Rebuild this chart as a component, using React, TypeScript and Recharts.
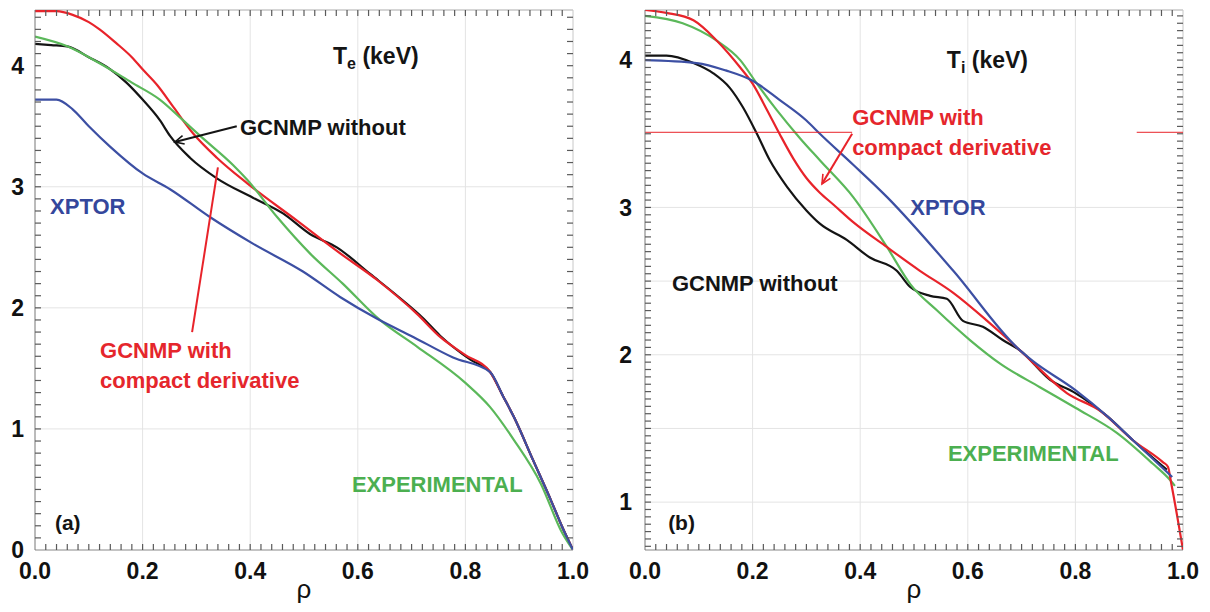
import React from 'react';
import { LineChart, Line, XAxis, YAxis, ReferenceLine, ReferenceDot } from 'recharts';

type Pt = [number, number];

const FONT = '"Liberation Sans", Arial, Helvetica, sans-serif';
const RED = '#e8232a';
const GREEN = '#5bb85a';
const BLUE = '#3c4fa3';
const BLACK = '#141414';

// ---- (a) electron temperature, Te (keV) vs rho
const teWithout: Pt[] = [
    [0, 4.18], [0.03, 4.17], [0.06, 4.16], [0.1, 4.07], [0.14, 3.97], [0.17, 3.86], [0.2, 3.72],
    [0.232, 3.55], [0.251, 3.42], [0.288, 3.24], [0.338, 3.07], [0.405, 2.91], [0.461, 2.78],
    [0.511, 2.61], [0.561, 2.5], [0.623, 2.28], [0.684, 2.06], [0.72, 1.92], [0.753, 1.77],
    [0.81, 1.57], [0.846, 1.47], [0.87, 1.27], [0.89, 1.1], [0.926, 0.74], [0.96, 0.4], [0.98, 0.19], [1, 0],
];
const teCompact: Pt[] = [
    [0, 4.45], [0.04, 4.45], [0.07, 4.42], [0.1, 4.36], [0.12, 4.3], [0.15, 4.19], [0.18, 4.07],
    [0.2, 3.97], [0.227, 3.84], [0.257, 3.66], [0.294, 3.44], [0.338, 3.24], [0.394, 3.03],
    [0.487, 2.72], [0.561, 2.47], [0.636, 2.23], [0.71, 1.95], [0.753, 1.76], [0.8, 1.61],
    [0.846, 1.47], [0.87, 1.27], [0.89, 1.1], [0.926, 0.74], [0.96, 0.4], [0.98, 0.19], [1, 0],
];
const teXptor: Pt[] = [
    [0, 3.72], [0.04, 3.72], [0.07, 3.64], [0.1, 3.5], [0.14, 3.33], [0.2, 3.11], [0.251, 2.98],
    [0.325, 2.75], [0.405, 2.53], [0.498, 2.3], [0.567, 2.09], [0.636, 1.91], [0.703, 1.76],
    [0.777, 1.59], [0.846, 1.47], [0.87, 1.27], [0.89, 1.1], [0.926, 0.74], [0.96, 0.4], [0.98, 0.19], [1, 0],
];
const teExp: Pt[] = [
    [0, 4.24], [0.06, 4.16], [0.12, 4.02], [0.18, 3.86], [0.232, 3.72], [0.275, 3.55], [0.307, 3.42],
    [0.368, 3.18], [0.394, 3.06], [0.45, 2.75], [0.511, 2.45], [0.572, 2.2], [0.641, 1.9],
    [0.71, 1.68], [0.8, 1.38], [0.846, 1.18], [0.89, 0.91], [0.94, 0.55], [0.98, 0.14], [1, 0],
];

// ---- (b) ion temperature, Ti (keV) vs rho
const tiWithout: Pt[] = [
    [0, 4.03], [0.04, 4.03], [0.09, 3.98], [0.127, 3.91], [0.158, 3.81], [0.182, 3.68], [0.208, 3.5],
    [0.232, 3.32], [0.264, 3.14], [0.3, 2.98], [0.325, 2.89], [0.375, 2.78], [0.418, 2.66],
    [0.468, 2.57], [0.493, 2.46], [0.53, 2.4], [0.561, 2.38], [0.591, 2.23], [0.628, 2.19],
    [0.665, 2.1], [0.697, 2.03], [0.753, 1.83], [0.8, 1.74], [0.86, 1.58], [0.907, 1.42], [0.97, 1.22],
];
const tiCompact: Pt[] = [
    [0, 4.34], [0.04, 4.32], [0.09, 4.27], [0.134, 4.13], [0.177, 3.95], [0.2, 3.84], [0.227, 3.66],
    [0.25, 3.5], [0.276, 3.33], [0.3, 3.2], [0.325, 3.1], [0.35, 3.02], [0.387, 2.9], [0.45, 2.73],
    [0.511, 2.57], [0.573, 2.42], [0.636, 2.23], [0.697, 2.03], [0.72, 1.95], [0.784, 1.74],
    [0.846, 1.62], [0.907, 1.42], [0.963, 1.27], [0.972, 1.24], [0.978, 1.13], [1, 0.675],
];
const tiXptor: Pt[] = [
    [0, 4.0], [0.096, 3.98], [0.15, 3.93], [0.2, 3.86], [0.25, 3.73], [0.3, 3.59], [0.325, 3.5],
    [0.387, 3.29], [0.45, 3.07], [0.573, 2.57], [0.697, 2.03], [0.72, 1.96], [0.8, 1.76],
    [0.86, 1.58], [0.907, 1.42], [0.98, 1.17],
];
const tiExp: Pt[] = [
    [0, 4.3], [0.07, 4.25], [0.134, 4.13], [0.177, 4.0], [0.208, 3.84], [0.245, 3.66], [0.288, 3.47],
    [0.325, 3.32], [0.387, 3.07], [0.45, 2.73], [0.493, 2.48], [0.543, 2.3], [0.604, 2.1],
    [0.66, 1.94], [0.734, 1.78], [0.8, 1.64], [0.877, 1.47], [0.944, 1.26], [0.976, 1.15], [0.985, 1.11],
];

// axis labels and grid
const xLabels = [0, 0.2, 0.4, 0.6, 0.8, 1.0];
const teYLabels = [0, 1, 2, 3, 4];
const tiYLabels = [1, 2, 3, 4];
const gridX = [0.2, 0.4, 0.6, 0.8];
const teGridY = [1, 2, 3];
const tiGridY = [1, 1.5, 2, 2.5, 3];

// minor tick mark positions
const range = (start: number, stop: number, step: number) => {
    const out: number[] = [];
    for (let v = start; v <= stop + 1e-9; v += step) out.push(Math.round(v * 1000) / 1000);
    return out;
};
const xMinor = range(0.02, 0.98, 0.02);
const teYMinor = range(0.1, 4.4, 0.1);
const tiYMinor = range(0.7, 4.3, 0.05);

interface Series { color: string; points: Pt[] }
interface Note { x: number; y: number; text: string; color: string; sub?: string; rest?: string; size?: number }
interface Arrow { from: Pt; to: Pt; color: string; head?: boolean; width?: number }

const teNotes: Note[] = [
    { x: 0.554, y: 4.08, text: 'T', sub: 'e', rest: ' (keV)', color: BLACK, size: 23 },
    { x: 0.381, y: 3.49, text: 'GCNMP without', color: BLACK },
    { x: 0.028, y: 2.84, text: 'XPTOR', color: '#34479c' },
    { x: 0.121, y: 1.65, text: 'GCNMP with', color: '#e5262c' },
    { x: 0.121, y: 1.4, text: 'compact derivative', color: '#e5262c' },
    { x: 0.589, y: 0.544, text: 'EXPERIMENTAL', color: '#4caf50' },
    { x: 0.037, y: 0.231, text: '(a)', color: BLACK, size: 21 },
];
const tiNotes: Note[] = [
    { x: 0.561, y: 4.0, text: 'T', sub: 'i', rest: ' (keV)', color: BLACK, size: 23 },
    { x: 0.385, y: 3.61, text: 'GCNMP with', color: '#e5262c' },
    { x: 0.385, y: 3.41, text: 'compact derivative', color: '#e5262c' },
    { x: 0.493, y: 3.0, text: 'XPTOR', color: '#34479c' },
    { x: 0.05, y: 2.485, text: 'GCNMP without', color: BLACK },
    { x: 0.563, y: 1.33, text: 'EXPERIMENTAL', color: '#4caf50' },
    { x: 0.043, y: 0.864, text: '(b)', color: BLACK, size: 21 },
];

const teArrows: Arrow[] = [
    { from: [0.375, 3.5], to: [0.26, 3.37], color: BLACK, head: true, width: 2 },
    { from: [0.34, 3.16], to: [0.292, 1.8], color: RED, width: 2 },
];
const tiArrows: Arrow[] = [
    { from: [0.385, 3.5], to: [0.329, 3.16], color: RED, head: true, width: 2 },
    { from: [0, 3.51], to: [0.385, 3.51], color: RED, width: 1 },
    { from: [0.914, 3.51], to: [1, 3.51], color: RED, width: 1 },
];

const isLabel = (labels: number[]) => (v: number) => labels.some((l) => Math.abs(l - v) < 1e-6);

const tickStyle = { fontSize: 23, fontWeight: 'bold' as const, fill: '#111', fontFamily: FONT };
const TICK = '#5a5a5a';
const TICK_LEN = 6;

// short inward tick drawn at a data point on the frame
const tickMark = (dx: number, dy: number) => (p: any) => (
    <line x1={p.cx} y1={p.cy} x2={p.cx + dx} y2={p.cy + dy} stroke={TICK} strokeWidth={1.2} />
);

interface PanelProps {
    series: Series[];
    yDomain: [number, number];
    yMinor: number[];
    yLabels: number[];
    gridY: number[];
    notes: Note[];
    arrows: Arrow[];
    yAxisWidth: number;
    rightMargin: number;
    yTickMargin: number;
}

const Panel: React.FC<PanelProps> = ({ series, yDomain, yMinor, yLabels, gridY, notes, arrows, yAxisWidth, rightMargin, yTickMargin }) => {
    const xIs = isLabel(xLabels);
    const yIs = isLabel(yLabels);
    const ids = { xAxisId: 'b', yAxisId: 'l' };
    const [y0, y1] = yDomain;
    return (
        <LineChart width={605} height={612} margin={{ top: 10, right: rightMargin, bottom: 0, left: 0 }}>
            <XAxis
                xAxisId="b" dataKey="x" type="number" domain={[0, 1]} allowDataOverflow
                ticks={xLabels} interval={0} tickSize={0} tickMargin={13} height={62}
                tickFormatter={(v: number) => (xIs(v) ? v.toFixed(1) : '')}
                tick={tickStyle} stroke="#888" tickLine={false}
                label={{ value: 'ρ', position: 'insideBottom', offset: 14, style: { fontSize: 26, fill: '#111', fontFamily: FONT } }}
            />
            <YAxis
                yAxisId="l" type="number" domain={yDomain} allowDataOverflow
                ticks={yLabels} interval={0} tickSize={0} tickMargin={yTickMargin} width={yAxisWidth}
                tickFormatter={(v: number) => (yIs(v) ? String(Math.round(v)) : '')}
                tick={tickStyle} stroke="#777" tickLine={false}
            />

            {/* light frame on top and right */}
            <ReferenceLine {...ids} y={y1} stroke="#aaa" strokeWidth={1} ifOverflow="visible" />
            <ReferenceLine {...ids} x={1} stroke="#c8c8c8" strokeWidth={1} ifOverflow="visible" />

            {gridX.map((v) => (
                <ReferenceLine key={'gx' + v} {...ids} x={v} stroke="#e4e4e4" strokeWidth={1} />
            ))}
            {gridY.map((v) => (
                <ReferenceLine key={'gy' + v} {...ids} y={v} stroke="#e4e4e4" strokeWidth={1} />
            ))}

            {/* inward minor ticks on all four sides */}
            {xMinor.map((v) => (
                <ReferenceDot key={'tb' + v} {...ids} x={v} y={y0} r={0} ifOverflow="visible" shape={tickMark(0, -TICK_LEN)} />
            ))}
            {xMinor.map((v) => (
                <ReferenceDot key={'tt' + v} {...ids} x={v} y={y1} r={0} ifOverflow="visible" shape={tickMark(0, TICK_LEN)} />
            ))}
            {yMinor.map((v) => (
                <ReferenceDot key={'tl' + v} {...ids} x={0} y={v} r={0} ifOverflow="visible" shape={tickMark(TICK_LEN, 0)} />
            ))}
            {yMinor.map((v) => (
                <ReferenceDot key={'tr' + v} {...ids} x={1} y={v} r={0} ifOverflow="visible" shape={tickMark(-TICK_LEN, 0)} />
            ))}

            {series.map((s, i) => (
                <Line
                    key={i} {...ids} data={s.points.map(([x, y]) => ({ x, y }))} dataKey="y"
                    type="monotone" stroke={s.color} strokeWidth={2.2} dot={false}
                    isAnimationActive={false}
                />
            ))}

            {arrows.map((a, i) => (
                <ReferenceLine
                    key={'a' + i} {...ids} ifOverflow="visible"
                    segment={[{ x: a.from[0], y: a.from[1] }, { x: a.to[0], y: a.to[1] }]}
                    shape={(p: any) => {
                        const { x1, y1: py1, x2, y2 } = p;
                        const ang = Math.atan2(py1 - y2, x1 - x2);
                        const L = 10;
                        const h1 = [x2 + L * Math.cos(ang + 0.45), y2 + L * Math.sin(ang + 0.45)];
                        const h2 = [x2 + L * Math.cos(ang - 0.45), y2 + L * Math.sin(ang - 0.45)];
                        return (
                            <g>
                                <line x1={x1} y1={py1} x2={x2} y2={y2} stroke={a.color} strokeWidth={a.width ?? 2} />
                                {a.head && (
                                    <polyline
                                        points={`${h1[0]},${h1[1]} ${x2},${y2} ${h2[0]},${h2[1]}`}
                                        fill="none" stroke={a.color} strokeWidth={1.6}
                                    />
                                )}
                            </g>
                        );
                    }}
                />
            ))}

            {notes.map((n, i) => (
                <ReferenceDot
                    key={'n' + i} {...ids} x={n.x} y={n.y} r={0} ifOverflow="visible"
                    shape={(p: any) => (
                        <text
                            x={p.cx} y={p.cy} fill={n.color} fontSize={n.size ?? 22} fontWeight="bold"
                            fontFamily={FONT} dominantBaseline="central"
                        >
                            {n.text}
                            {n.sub && <tspan dy={7} fontSize={16}>{n.sub}</tspan>}
                            {n.rest && <tspan dy={n.sub ? -7 : 0}>{n.rest}</tspan>}
                        </text>
                    )}
                />
            ))}
        </LineChart>
    );
};

const App: React.FC = () => (
    <div style={{ position: 'absolute', left: 0, top: 0, width: 1210, height: 612, background: '#fff', display: 'flex' }}>
        <Panel
            series={[
                { color: BLACK, points: teWithout },
                { color: RED, points: teCompact },
                { color: GREEN, points: teExp },
                { color: BLUE, points: teXptor },
            ]}
            yDomain={[0, 4.46]} yMinor={teYMinor} yLabels={teYLabels} gridY={teGridY}
            notes={teNotes} arrows={teArrows} yAxisWidth={35} rightMargin={32} yTickMargin={11}
        />
        <Panel
            series={[
                { color: BLACK, points: tiWithout },
                { color: GREEN, points: tiExp },
                { color: RED, points: tiCompact },
                { color: BLUE, points: tiXptor },
            ]}
            yDomain={[0.675, 4.34]} yMinor={tiYMinor} yLabels={tiYLabels} gridY={tiGridY}
            notes={tiNotes} arrows={tiArrows} yAxisWidth={40} rightMargin={27} yTickMargin={13}
        />
    </div>
);

export default App;
